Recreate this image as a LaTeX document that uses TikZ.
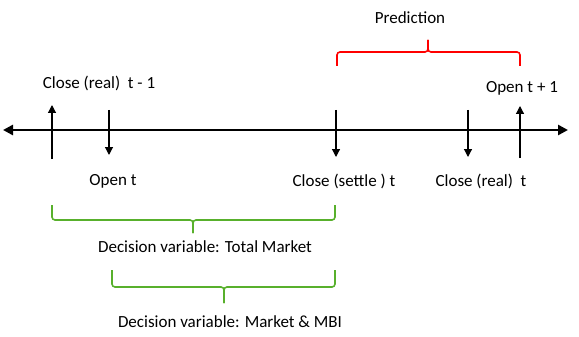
\documentclass[tikz,border=0pt]{standalone}
\usepackage{fontspec}
\setmainfont{Carlito}
\usetikzlibrary{arrows.meta}
\definecolor{brgreen}{RGB}{88,176,44}
\begin{document}
\begin{tikzpicture}[x=1pt,y=-1pt,
  axis/.style={line width=2.6pt,{Triangle[length=10pt,width=10pt]}-{Triangle[length=10pt,width=10pt]}},
  tick/.style={line width=1.2pt,-{Triangle[length=8pt,width=8pt]}},
  lbl/.style={inner sep=0pt,font=\fontsize{17}{19}\selectfont},
  redbrace/.style={draw=red,line width=1.6pt,rounded corners=3pt},
  greenbrace/.style={draw=brgreen,line width=1.6pt,rounded corners=3pt}]
\useasboundingbox (0,0) rectangle (579,337);
% axis
\coordinate (L) at (3,130);
\coordinate (R) at (568,130);
\draw[axis] (L) -- (R);
% ticks
\coordinate (a1) at (52,159); \coordinate (a1t) at (52,105);
\coordinate (b1) at (109,110); \coordinate (b1t) at (109,155);
\coordinate (b2) at (336,110); \coordinate (b2t) at (336,157);
\coordinate (b3) at (468,110); \coordinate (b3t) at (468,157);
\coordinate (a2) at (520,158); \coordinate (a2t) at (520,106);
\draw[tick] (a1) -- (a1t);
\draw[tick] (b1) -- (b1t);
\draw[tick] (b2) -- (b2t);
\draw[tick] (b3) -- (b3t);
\draw[tick] (a2) -- (a2t);
% labels
\node[lbl] (cr1) at (99,83) {Close (real)\ \ t - 1};
\node[lbl] (ot) at (113,181) {Open t};
\node[lbl] (cs) at (344,181) {Close (settle ) t};
\node[lbl] (cr) at (481,181) {Close (real)\ \ t};
\node[lbl] (ot1) at (522,88) {Open t + 1};
\node[lbl] (pred) at (410,18) {Prediction};
\node[lbl] (dv1) at (205,247) {Decision variable: Total Market};
\node[lbl] (dv2) at (230,322) {Decision variable: Market \& MBI};
% red brace
\draw[redbrace] (337,66) -- (337,52) -- (428,52) -- (428,40);
\draw[redbrace] (428,40) -- (428,52) -- (520,52) -- (520,66);
% green braces
\draw[greenbrace] (52,205) -- (52,220) -- (193,220) -- (193,233);
\draw[greenbrace] (193,233) -- (193,220) -- (335,220) -- (335,205);
\draw[greenbrace] (112,270) -- (112,287) -- (224,287) -- (224,303);
\draw[greenbrace] (224,303) -- (224,287) -- (335,287) -- (335,270);
\end{tikzpicture}
\end{document}
